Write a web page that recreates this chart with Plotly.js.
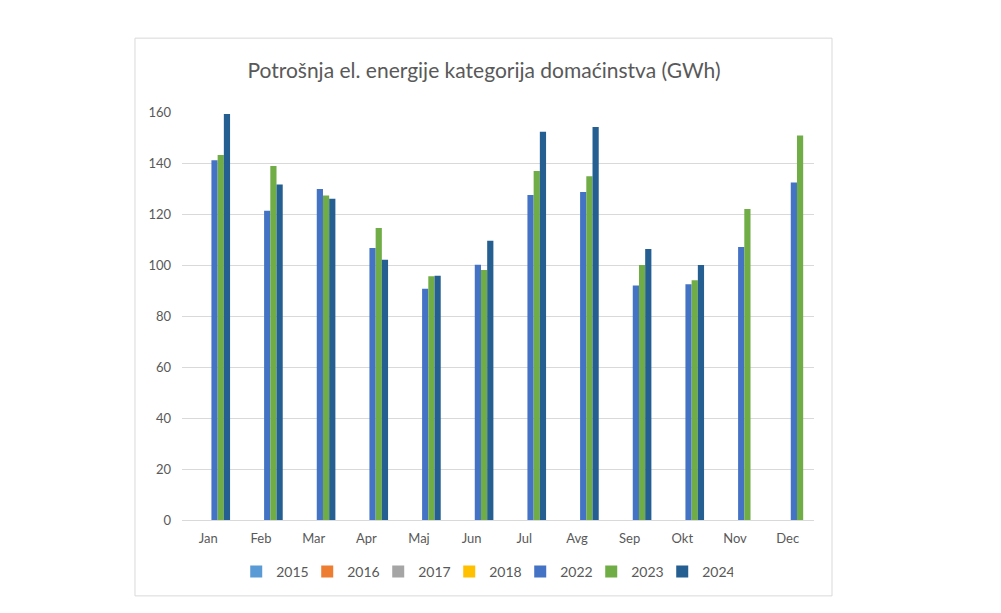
<!DOCTYPE html>
<html>
<head>
<meta charset="utf-8">
<script src="https://cdn.plot.ly/plotly-3.0.1.min.js"></script>
<style>html,body{margin:0;padding:0;background:#fff;}#chart{width:1001px;height:613px;}</style>
</head>
<body>
<div id="chart"></div>
<script>
const months = ["Jan","Feb","Mar","Apr","Maj","Jun","Jul","Avg","Sep","Okt","Nov","Dec"];
const y2015 = [null,null,null,null,null,null,null,null,null,null,null,null];
const y2016 = [null,null,null,null,null,null,null,null,null,null,null,null];
const y2017 = [null,null,null,null,null,null,null,null,null,null,null,null];
const y2018 = [null,null,null,null,null,null,null,null,null,null,null,null];
const y2022 = [141.1,121.3,129.8,106.7,90.7,100.1,127.5,128.6,92.0,92.5,107.1,132.4];
const y2023 = [143.1,138.8,127.3,114.5,95.6,98.0,136.9,134.8,100.0,94.0,122.0,150.8];
const y2024 = [159.2,131.6,126.0,102.1,95.8,109.5,152.3,154.1,106.3,100.0,null,null];
const seriesNames = ["2015","2016","2017","2018","2022","2023","2024"];
const seriesData = [y2015,y2016,y2017,y2018,y2022,y2023,y2024];
const seriesColors = ["#5B9BD5","#ED7D31","#A5A5A5","#FFC000","#4472C4","#70AD47","#255E91"];
const yTicks = [0,20,40,60,80,100,120,140,160];

const FONT = "Lato, 'Open Sans', sans-serif";
const traces = seriesNames.map((n,i)=>({
  type:"bar", name:n, x:months, y:seriesData[i],
  marker:{color:seriesColors[i], line:{width:0}},
  hoverinfo:"x+y+name"
}));

const layout = {
  width:1001, height:613,
  paper_bgcolor:"#fff", plot_bgcolor:"#fff",
  margin:{l:182, r:187, t:112, b:93},
  barmode:"group", bargap:0.175, bargroupgap:0,
  title:{text:"Potrošnja el. energije kategorija domaćinstva (GWh)", font:{family:FONT, size:21, color:"#595959"}, x:0.4835, xanchor:"center", y:0.885, yanchor:"middle"},
  font:{family:FONT, color:"#595959", size:13},
  xaxis:{type:"category", showgrid:false, zeroline:false, showline:true, linecolor:"#d9d9d9", linewidth:1, ticks:"", tickfont:{family:FONT,size:13,color:"#595959"}, ticklabelstandoff:6},
  yaxis:{range:[0,160], tickvals:yTicks, ticktext:yTicks.map(String), showgrid:true, gridcolor:"#d9d9d9", gridwidth:1, zeroline:false, showline:false, ticks:"", tickfont:{family:FONT,size:13,color:"#595959"}, ticklabelstandoff:10},
  legend:{orientation:"h", x:0.479, xanchor:"center", y:-0.127, yanchor:"middle", font:{family:FONT,size:14,color:"#595959"}, itemwidth:30, entrywidth:26, entrywidthmode:"pixels", traceorder:"normal"},
  shapes:[{type:"rect", xref:"paper", yref:"paper", x0:-0.0744, x1:1.0285, y0:-0.186, y1:1.181, line:{color:"#d9d9d9", width:1}, fillcolor:"rgba(0,0,0,0)", layer:"below"}],
  showlegend:true
};
Plotly.newPlot("chart", traces, layout, {displayModeBar:false, staticPlot:true});
</script>
</body>
</html>
